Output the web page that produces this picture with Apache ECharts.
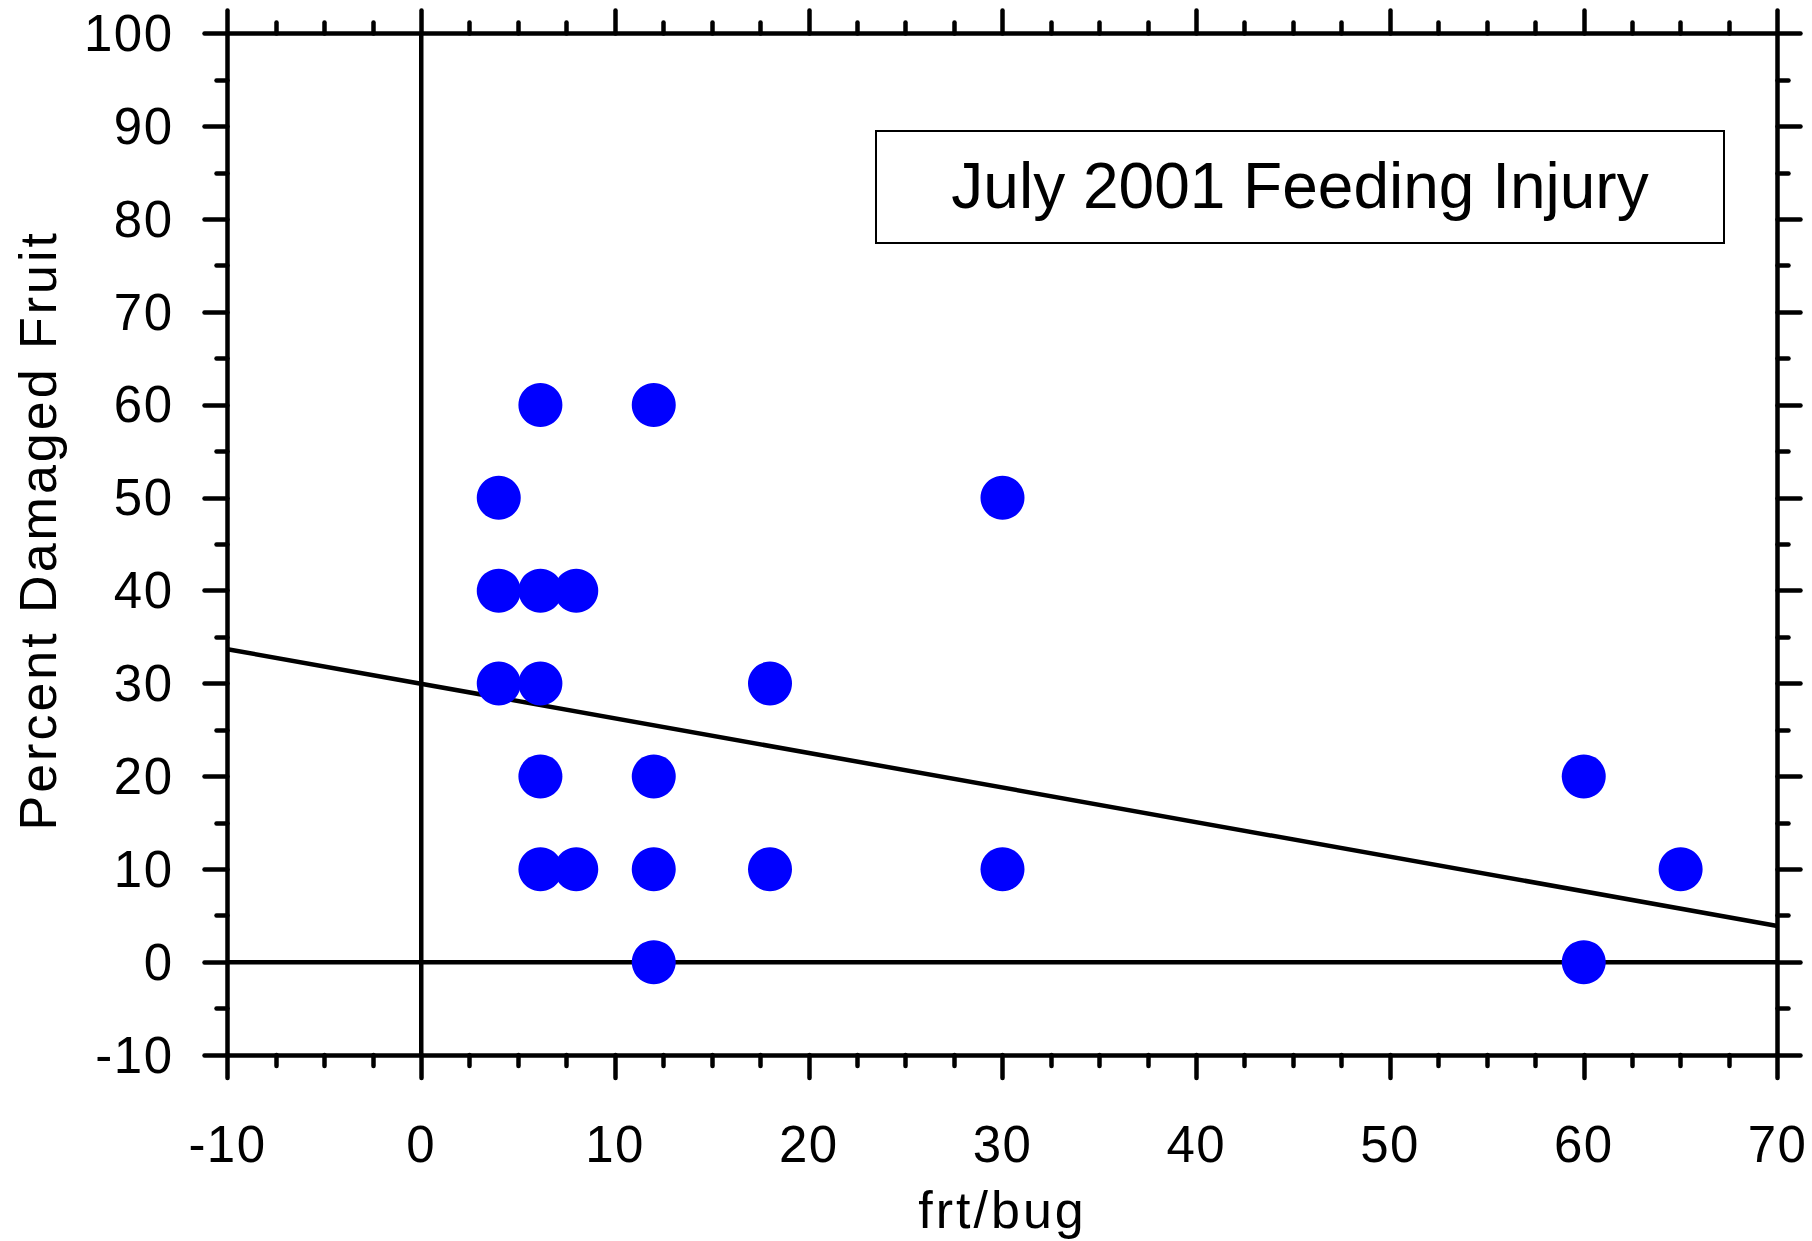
<!DOCTYPE html>
<html>
<head>
<meta charset="utf-8">
<script src="https://cdn.jsdelivr.net/npm/echarts@6/dist/echarts.min.js"></script>
<style>
  html, body { margin: 0; padding: 0; background: #fff; }
  #chart { width: 1812px; height: 1241px; }
  /* letter spacing of the original figure's axis texts */
  #chart text[style*="51px"] { letter-spacing: 1.5px; }
  #chart text[style*="52px"] { letter-spacing: 3px; }
</style>
</head>
<body>
<div id="chart"></div>
<script>
// ---- data ----
const xValues = [6.15, 12, 4, 30, 4, 6.15, 8, 4, 6.15, 18, 6.15, 12, 60, 6.15, 8, 12, 18, 30, 65, 12, 60];
const yValues = [60, 60, 50, 50, 40, 40, 40, 30, 30, 30, 20, 20, 20, 10, 10, 10, 10, 10, 10, 0, 0];
const fitX = [-10, 70];
const fitY = [33.7, 3.9];
const xTicks = [-10, 0, 10, 20, 30, 40, 50, 60, 70];
const yTicks = [-10, 0, 10, 20, 30, 40, 50, 60, 70, 80, 90, 100];
const xTitle = 'frt/bug';
const yTitle = 'Percent Damaged Fruit';
const boxLabel = 'July 2001 Feeding Injury';

const FONT = '"Liberation Sans", Arial, Helvetica, sans-serif';
const LW = 4.5;
const chart = echarts.init(document.getElementById('chart'), null, { renderer: 'svg' });

const axisCommon = (isX, showLabel, pos) => ({
  type: 'value',
  position: pos,
  min: isX ? xTicks[0] : yTicks[0],
  max: isX ? xTicks[xTicks.length - 1] : yTicks[yTicks.length - 1],
  interval: 10,
  splitLine: { show: false },
  axisLine: { show: true, onZero: false, lineStyle: { color: '#000', width: LW, cap: 'round' } },
  axisTick: { show: true, inside: false, length: 23, lineStyle: { color: '#000', width: LW, cap: 'round' } },
  minorTick: { show: true, splitNumber: isX ? 4 : 2, length: 11, lineStyle: { color: '#000', width: LW, cap: 'round' } },
  axisLabel: {
    show: showLabel,
    color: '#000',
    fontFamily: FONT,
    fontSize: 51,
    margin: isX ? 64 : 54
  }
});

const xBottom = Object.assign(axisCommon(true, true, 'bottom'), {
  name: xTitle,
  nameLocation: 'middle',
  nameGap: 129,
  nameTextStyle: { color: '#000', fontFamily: FONT, fontSize: 52 }
});
const xTop = axisCommon(true, false, 'top');
const yLeft = Object.assign(axisCommon(false, true, 'left'), {
  name: yTitle,
  nameLocation: 'middle',
  nameGap: 164,
  nameTextStyle: { color: '#000', fontFamily: FONT, fontSize: 52, padding: [0, 0, 0, 28] }
});
const yRight = axisCommon(false, false, 'right');

const points = xValues.map((x, i) => [x, yValues[i]]);
const fitLine = fitX.map((x, i) => [x, fitY[i]]);

chart.setOption({
  animation: false,
  backgroundColor: '#fff',
  grid: { left: 227.5, right: 34.5, top: 33.5, bottom: 186, containLabel: false, outerBoundsMode: 'none' },
  xAxis: [xBottom, xTop],
  yAxis: [yLeft, yRight],
  graphic: [
    {
      type: 'rect',
      shape: { x: 876, y: 131, width: 848, height: 112 },
      style: { fill: '#fff', stroke: '#000', lineWidth: 2 },
      z: 10
    },
    {
      type: 'text',
      x: 1300,
      y: 186,
      style: {
        text: boxLabel,
        fill: '#000',
        font: '64px ' + FONT,
        textAlign: 'center',
        textVerticalAlign: 'middle'
      },
      z: 11
    }
  ],
  series: [
    {
      type: 'line',
      data: [[xTicks[0], 0], [xTicks[xTicks.length - 1], 0]],
      symbol: 'none',
      lineStyle: { color: '#000', width: LW },
      silent: true,
      z: 1
    },
    {
      type: 'line',
      data: [[0, yTicks[0]], [0, yTicks[yTicks.length - 1]]],
      symbol: 'none',
      lineStyle: { color: '#000', width: LW },
      silent: true,
      z: 1
    },
    {
      type: 'line',
      data: fitLine,
      symbol: 'none',
      lineStyle: { color: '#000', width: LW },
      silent: true,
      z: 2
    },
    {
      type: 'scatter',
      data: points,
      symbol: 'circle',
      symbolSize: 44,
      itemStyle: { color: '#0000ff', opacity: 1 },
      z: 3
    }
  ]
});
</script>
</body>
</html>
